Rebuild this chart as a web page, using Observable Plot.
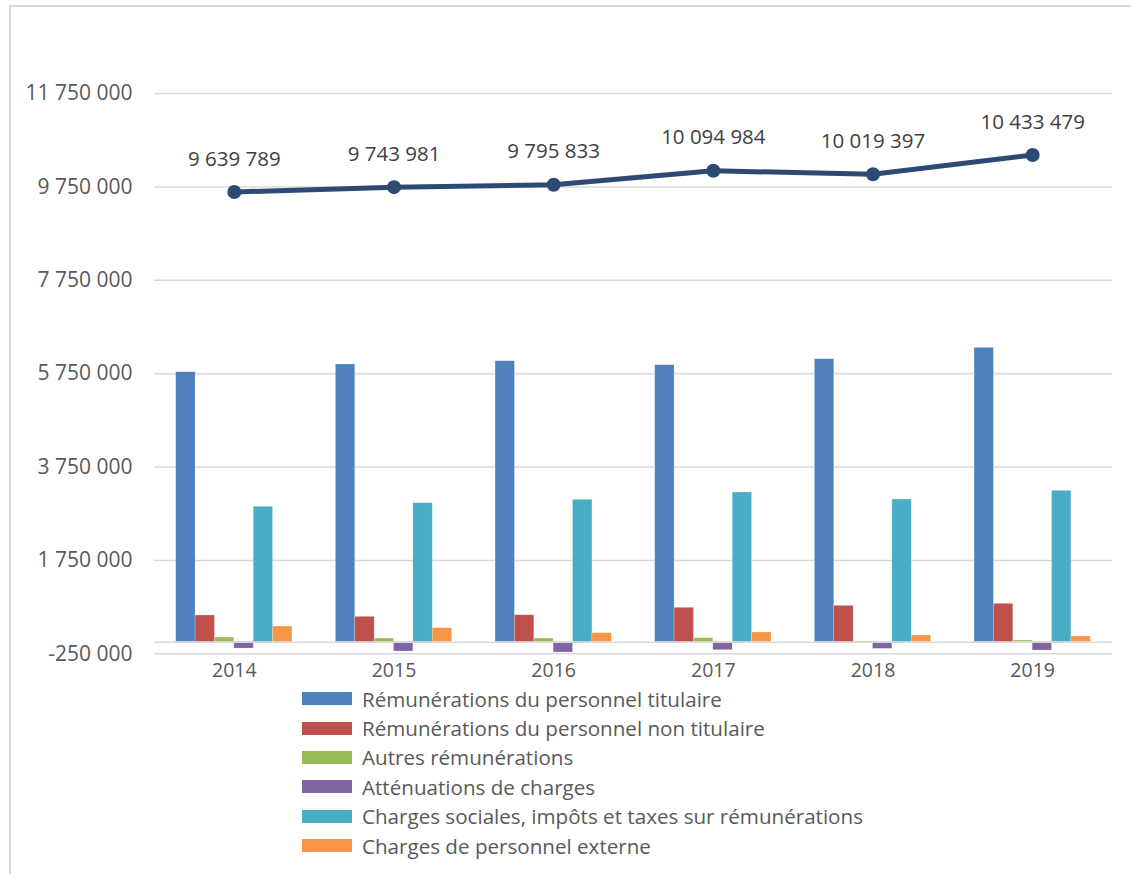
<!DOCTYPE html>
<html>
<head>
<meta charset="utf-8">
<script src="https://cdn.jsdelivr.net/npm/d3@7"></script>
<script src="https://cdn.jsdelivr.net/npm/@observablehq/plot@0.6"></script>
<style>
  html, body { margin: 0; padding: 0; background: #fff; }
  #wrap { position: relative; width: 1131px; height: 874px; overflow: hidden; font-family: "Open Sans", sans-serif; }
  #frame { position: absolute; left: 9px; top: 5px; width: 1130px; height: 880px; border-top: 2px solid #d9d9d9; border-left: 2px solid #d9d9d9; box-sizing: border-box; }
  #chart { position: absolute; left: 0; top: 0; }
  #legend { position: absolute; left: 302px; top: 684px; }
  .row { display: flex; align-items: center; height: 29.4px; }
  .sw { width: 50px; height: 13px; margin-right: 10px; }
  .lab { font-size: 20.6px; color: #595959; white-space: nowrap; }
</style>
</head>
<body>
<div id="wrap">
  <div id="frame"></div>
  <div id="chart"></div>
  <div id="legend"></div>
</div>
<script>
const years = ["2014", "2015", "2016", "2017", "2018", "2019"];
const seriesNames = [
  "Rémunérations du personnel titulaire",
  "Rémunérations du personnel non titulaire",
  "Autres rémunérations",
  "Atténuations de charges",
  "Charges sociales, impôts et taxes sur rémunérations",
  "Charges de personnel externe"
];
const seriesColors = ["#4F81BD", "#C0504D", "#9BBB59", "#8064A2", "#4BACC6", "#F79646"];

const titulaire    = [5781000, 5946000, 6016000, 5931000, 6059000, 6303000];
const nonTitulaire = [570000, 541000, 576000, 735000, 777000, 820000];
const autres       = [99000, 77000, 77000, 84000, 15000, 34000];
const attenuations = [-137000, -201000, -223000, -173000, -144000, -180000];
const charges      = [2898000, 2975000, 3048000, 3204000, 3054000, 3240000];
const externe      = [334000, 298000, 191000, 206000, 141000, 120000];
const totals       = [9639789, 9743981, 9795833, 10094984, 10019397, 10433479];

const yTicks = [-250000, 1750000, 3750000, 5750000, 7750000, 9750000, 11750000];

const seriesValues = [titulaire, nonTitulaire, autres, attenuations, charges, externe];
const fmt = v => d3.format(",")(v).replace(/,/g, " ").replace("\u2212", "-");

// group layout within each year band (in x data units)
const groupWidth = 0.728;
const barW = groupWidth / seriesNames.length;

const bars = [];
seriesValues.forEach((vals, k) => {
  vals.forEach((v, i) => {
    bars.push({
      series: seriesNames[k],
      year: years[i],
      x1: i - groupWidth / 2 + k * barW,
      x2: i - groupWidth / 2 + (k + 1) * barW,
      value: v
    });
  });
});
const line = totals.map((v, i) => ({ i, year: years[i], value: v }));

const chart = Plot.plot({
  width: 1131,
  height: 680,
  marginLeft: 154,
  marginRight: 19,
  marginTop: 93,
  marginBottom: 26.7,
  style: { fontFamily: "'Open Sans', sans-serif", background: "transparent", overflow: "visible" },
  x: { type: "linear", domain: [-0.5, 5.5], axis: null },
  y: { domain: [-250000, 11750000], axis: null },
  color: { domain: seriesNames, range: seriesColors },
  marks: [
    Plot.ruleY(yTicks, { stroke: "#d9d9d9", strokeWidth: 1.5 }),
    Plot.rectY(bars, { x1: "x1", x2: "x2", y1: 0, y2: "value", fill: "series", stroke: "#ffffff", strokeOpacity: 0.35, strokeWidth: 0.6 }),
    Plot.ruleY([0], { stroke: "#d9d9d9", strokeWidth: 1.5 }),
    Plot.line(line, { x: "i", y: "value", stroke: "#2C4A74", strokeWidth: 5, strokeLinejoin: "round" }),
    Plot.dot(line, { x: "i", y: "value", r: 7, fill: "#2C4A74", stroke: "none" }),
    Plot.text(line, { x: "i", y: "value", text: d => fmt(d.value), dy: -33, fontSize: 20.5, fill: "#404040" }),
    Plot.axisY({ ticks: yTicks, tickSize: 0, tickPadding: 22, tickFormat: fmt, fontSize: 21, color: "#595959", label: null }),
    Plot.axisX({ ticks: [0, 1, 2, 3, 4, 5], tickSize: 0, tickPadding: 9, tickFormat: i => years[i], fontSize: 19.5, color: "#595959", label: null })
  ]
});
document.getElementById("chart").appendChild(chart);

const legend = document.getElementById("legend");
seriesNames.forEach((name, k) => {
  const row = document.createElement("div");
  row.className = "row";
  const sw = document.createElement("div");
  sw.className = "sw";
  sw.style.background = seriesColors[k];
  const lab = document.createElement("div");
  lab.className = "lab";
  lab.textContent = name;
  row.appendChild(sw);
  row.appendChild(lab);
  legend.appendChild(row);
});
</script>
</body>
</html>
